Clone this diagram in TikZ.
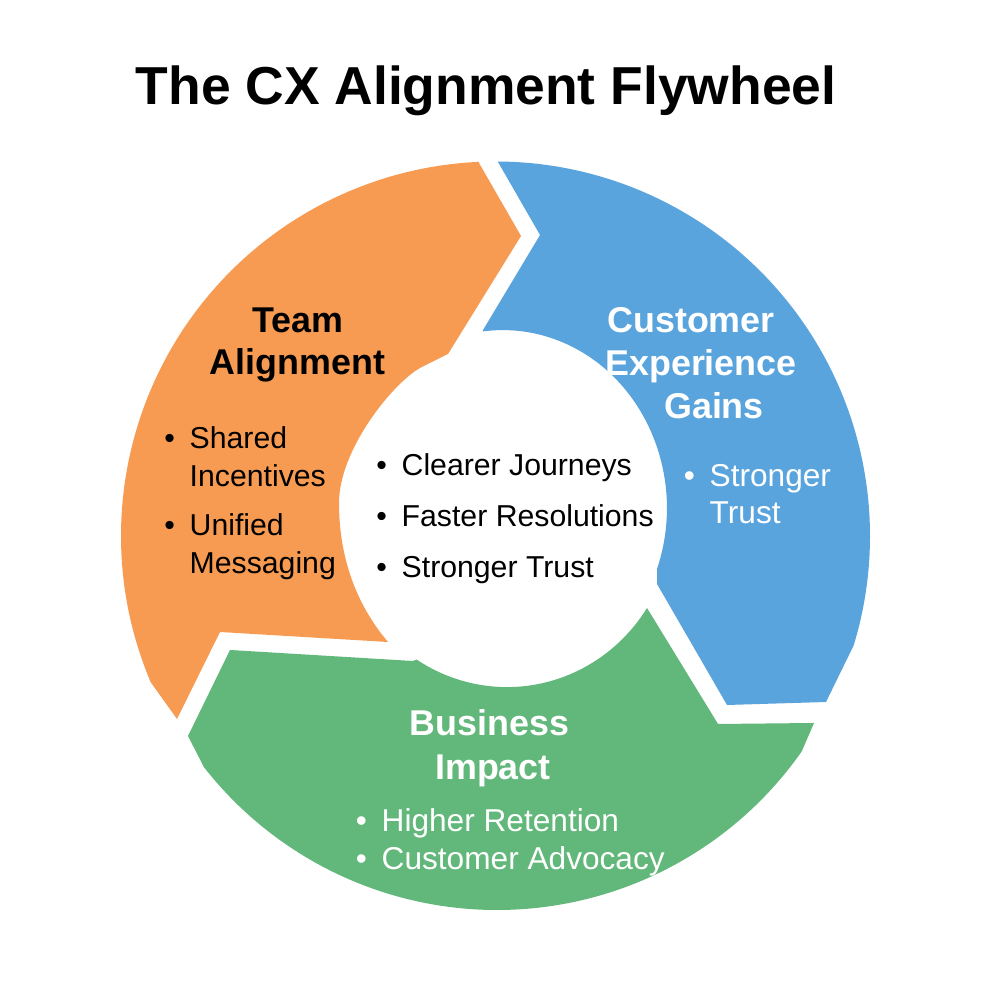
\documentclass[tikz,border=0pt]{standalone}
\usepackage{fontspec}
\setmainfont{Liberation Sans}
\definecolor{orangeseg}{RGB}{247,155,82}
\definecolor{blueseg}{RGB}{90,164,222}
\definecolor{greenseg}{RGB}{98,183,122}
\newcommand{\bul}{\llap{\textbullet\hspace{4.2pt}}}
\tikzset{
  head/.style={anchor=base,inner sep=0pt,yshift=-0.3pt,font=\bfseries\fontsize{10.2}{12}\selectfont},
  item/.style={anchor=base west,inner sep=0pt,yshift=-0.3pt,font=\fontsize{8.6}{10}\selectfont},
  itemb/.style={item,text=white,font=\fontsize{9}{10}\selectfont},
}
\begin{document}
\begin{tikzpicture}
\useasboundingbox (0,0) rectangle (10,10);
\fill[white] (0,0) rectangle (10,10);
\coordinate (hub) at (4.955,4.64);
\coordinate (huba) at (4.97,4.62);
% orange segment
\coordinate (oratop) at (4.79,8.37);
\coordinate (oratip) at (5.21,7.64);
\coordinate (orain) at (4.48,6.46);
\coordinate (orakink) at (4.20,6.32);
\coordinate (oraleft) at (3.39,4.97);
\coordinate (orabot) at (3.88,3.58);
\coordinate (oranotch) at (2.20,3.68);
\coordinate (orafoot) at (1.77,2.81);
\fill[orangeseg] (hub) ++(203:3.745) arc[start angle=203,end angle=92.5,radius=3.745]
  -- (oratop) -- (oratip) -- (orain) -- (orakink)
  .. controls (3.92,6.16) and (3.39,5.50) .. (oraleft)
  .. controls (3.39,4.30) and (3.65,3.85) .. (orabot)
  -- (oranotch) -- (orafoot) -- cycle;
% blue segment
\coordinate (blutop) at (4.98,8.38);
\coordinate (blunotch) at (5.40,7.65);
\coordinate (bluin) at (4.83,6.70);
\coordinate (blutip) at (6.57,4.16);
\coordinate (blubot) at (7.27,2.95);
\coordinate (blufoot) at (8.26,2.98);
\fill[blueseg] (hub) ++(89.6:3.745) arc[start angle=89.6,end angle=-17,radius=3.745]
  -- (blufoot) -- (blubot) -- (blutip)
  -- ++(0,0.15) arc[start angle=-20,end angle=97,x radius=1.64,y radius=1.78]
  -- (bluin) -- (blunotch) -- (blutop) -- cycle;
% green segment
\coordinate (grntip) at (8.14,2.77);
\coordinate (grnbot) at (7.18,2.76);
\coordinate (grnin) at (6.47,3.92);
\coordinate (grnleft) at (4.13,3.39);
\coordinate (grnnotch) at (2.30,3.50);
\coordinate (grnfoot) at (1.88,2.64);
\fill[greenseg] (huba) ++(218:3.72) arc[start angle=218,end angle=325,radius=3.72]
  -- (grntip) -- (grnbot) -- (grnin)
  arc[start angle=-32.5,end angle=-123,x radius=1.66,y radius=1.71]
  -- (grnleft) -- (grnnotch) -- (grnfoot) -- cycle;
% title
\node[anchor=base,inner sep=0pt,font=\bfseries\fontsize{15.2}{18}\selectfont] (title) at (4.86,8.95) {The CX Alignment Flywheel};
% team alignment
\node[head] (teamA) at (2.975,6.69) {Team};
\node[head] (teamB) at (2.975,6.27) {Alignment};
\node[item] (sharedA) at (1.89,5.53) {\bul Shared};
\node[item] (sharedB) at (1.89,5.15) {Incentives};
\node[item] (unifiedA) at (1.89,4.66) {\bul Unified};
\node[item] (unifiedB) at (1.89,4.28) {Messaging};
% customer experience gains
\node[head,text=white] (custA) at (6.91,6.69) {Customer};
\node[head,text=white] (custB) at (7.01,6.26) {Experience};
\node[head,text=white] (custC) at (7.14,5.83) {Gains};
\node[itemb] (trustA) at (7.09,5.15) {\bul Stronger};
\node[itemb] (trustB) at (7.09,4.78) {Trust};
% business impact
\node[head,text=white] (bizA) at (4.895,2.66) {Business};
\node[head,text=white] (bizB) at (4.93,2.22) {Impact};
\node[itemb] (bizC) at (3.81,1.70) {\bul Higher Retention};
\node[itemb] (bizD) at (3.81,1.32) {\bul Customer Advocacy};
% middle list
\node[item] (midA) at (4.01,5.26) {\bul Clearer Journeys};
\node[item] (midB) at (4.01,4.75) {\bul Faster Resolutions};
\node[item] (midC) at (4.01,4.24) {\bul Stronger Trust};
\end{tikzpicture}
\end{document}
